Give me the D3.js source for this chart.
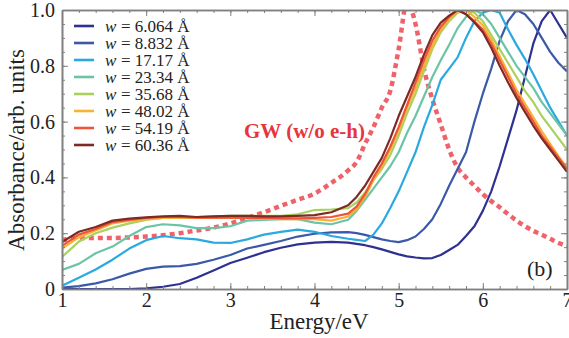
<!DOCTYPE html>
<html>
<head>
<meta charset="UTF-8">
<title>Absorbance</title>
<script src="https://cdnjs.cloudflare.com/ajax/libs/d3/7.8.5/d3.min.js"></script>
<style>
  body { margin: 0; background: #fff; }
</style>
</head>
<body>
<div id="chart"></div>
<script>
// energies (eV) the curves were read at
const energy = [1.0, 1.2, 1.4, 1.6, 1.8, 2.0, 2.2, 2.4, 2.6, 2.8, 3.0, 3.2, 3.4, 3.6, 3.8, 4.0, 4.2, 4.4,
  4.5, 4.6, 4.7, 4.8, 4.9, 5.0, 5.1, 5.2, 5.3, 5.4, 5.5, 5.6, 5.7, 5.8, 5.9, 6.0,
  6.1, 6.2, 6.3, 6.4, 6.5, 6.6, 6.7, 6.8, 6.9, 7.0];

const widths = ['6.064', '8.832', '17.17', '23.34', '35.68', '48.02', '54.19', '60.36'];
const colors = ['#2e3192', '#3b59a8', '#2aa9e0', '#6cc4a6', '#a9d15e', '#f9b236', '#f05438', '#7c2b24'];

const w6064 = [0, 0, 0, 0, 0, 0.002, 0.008, 0.018, 0.04, 0.066, 0.093, 0.112, 0.132, 0.148, 0.16, 0.166, 0.169, 0.166,
  0.162, 0.157, 0.15, 0.142, 0.133, 0.124, 0.117, 0.113, 0.11, 0.111, 0.122, 0.14, 0.158, 0.19, 0.225, 0.28,
  0.35, 0.44, 0.54, 0.64, 0.76, 0.88, 0.96, 1.0, 0.95, 0.9];
const w8832 = [0.005, 0.01, 0.02, 0.035, 0.055, 0.072, 0.08, 0.082, 0.09, 0.105, 0.122, 0.145, 0.158, 0.172, 0.188, 0.198, 0.203, 0.204,
  0.2, 0.194, 0.186, 0.178, 0.172, 0.168, 0.175, 0.188, 0.215, 0.25, 0.305, 0.37, 0.43, 0.49, 0.6, 0.7,
  0.79, 0.89, 0.96, 1.0, 0.985, 0.95, 0.9, 0.85, 0.81, 0.78];
const w1717 = [0.012, 0.04, 0.07, 0.105, 0.145, 0.175, 0.19, 0.182, 0.178, 0.166, 0.165, 0.178, 0.195, 0.205, 0.213, 0.205, 0.19, 0.18,
  0.176, 0.172, 0.195, 0.235, 0.29, 0.35, 0.42, 0.49, 0.58, 0.66, 0.75, 0.79, 0.83, 0.9, 0.96, 0.99,
  1.0, 0.99, 0.93, 0.875, 0.825, 0.77, 0.71, 0.65, 0.6, 0.55];
const w2334 = [0.068, 0.09, 0.128, 0.152, 0.19, 0.222, 0.232, 0.228, 0.218, 0.218, 0.225, 0.245, 0.248, 0.25, 0.25, 0.238, 0.232, 0.248,
  0.28, 0.32, 0.36, 0.4, 0.44, 0.49, 0.56, 0.62, 0.69, 0.76, 0.82, 0.875, 0.935, 0.975, 1.0, 0.985,
  0.95, 0.9, 0.85, 0.8, 0.76, 0.72, 0.67, 0.63, 0.59, 0.55];
const w3568 = [0.115, 0.17, 0.2, 0.22, 0.235, 0.248, 0.255, 0.258, 0.258, 0.26, 0.262, 0.262, 0.262, 0.262, 0.268, 0.283, 0.285, 0.29,
  0.31, 0.345, 0.39, 0.43, 0.48, 0.55, 0.63, 0.7, 0.78, 0.86, 0.92, 0.96, 0.99, 1.0, 0.99, 0.96,
  0.91, 0.86, 0.81, 0.76, 0.71, 0.67, 0.62, 0.58, 0.54, 0.5];
const w4802 = [0.145, 0.185, 0.21, 0.235, 0.245, 0.25, 0.255, 0.255, 0.255, 0.255, 0.255, 0.255, 0.252, 0.25, 0.25, 0.25, 0.245, 0.26,
  0.285, 0.33, 0.39, 0.44, 0.5, 0.57, 0.65, 0.72, 0.8, 0.87, 0.93, 0.97, 0.995, 1.0, 0.975, 0.945,
  0.895, 0.835, 0.775, 0.715, 0.665, 0.615, 0.565, 0.52, 0.475, 0.435];
const w5419 = [0.155, 0.195, 0.215, 0.24, 0.248, 0.255, 0.258, 0.258, 0.256, 0.256, 0.256, 0.255, 0.255, 0.253, 0.253, 0.255, 0.258, 0.27,
  0.295, 0.34, 0.4, 0.45, 0.51, 0.58, 0.66, 0.74, 0.82, 0.89, 0.94, 0.975, 1.0, 0.985, 0.96, 0.93,
  0.88, 0.82, 0.76, 0.7, 0.65, 0.6, 0.55, 0.51, 0.47, 0.43];
const w6036 = [0.168, 0.205, 0.222, 0.245, 0.252, 0.257, 0.26, 0.262, 0.258, 0.26, 0.262, 0.262, 0.26, 0.26, 0.262, 0.265, 0.275, 0.3,
  0.33, 0.37, 0.42, 0.47, 0.54, 0.62, 0.69, 0.76, 0.84, 0.91, 0.955, 0.98, 1.0, 0.985, 0.955, 0.92,
  0.865, 0.8, 0.74, 0.685, 0.635, 0.585, 0.54, 0.5, 0.46, 0.42];
// GW without electron-hole interaction (dotted)
const gw = [0.175, 0.183, 0.183, 0.183, 0.185, 0.188, 0.193, 0.2, 0.21, 0.22, 0.235, 0.255, 0.275, 0.298, 0.32, 0.342, 0.38, 0.425,
  0.455, 0.52, 0.58, 0.65, 0.71, 0.86, 1.03, 0.95, 0.79, 0.68, 0.59, 0.5, 0.435, 0.4, 0.37, 0.34,
  0.315, 0.293, 0.268, 0.245, 0.225, 0.208, 0.195, 0.18, 0.165, 0.155];

const series = [w6064, w8832, w1717, w2334, w3568, w4802, w5419, w6036];

const xTicks = [1, 2, 3, 4, 5, 6, 7];
const yTicks = [0, 0.2, 0.4, 0.6, 0.8, 1.0];
const yTickLabels = ['0', '0.2', '0.4', '0.6', '0.8', '1.0'];

const font = 'Liberation Serif';
const width = 569, height = 338;
const margin = {top: 10, right: 2, bottom: 49, left: 62};

const svg = d3.select('#chart').append('svg')
  .attr('width', width).attr('height', height);

const x = d3.scaleLinear().domain([1, 7]).range([margin.left, width - margin.right]);
const y = d3.scaleLinear().domain([0, 1]).range([height - margin.bottom, margin.top]);

svg.append('clipPath').attr('id', 'plot')
  .append('rect')
  .attr('x', x(1)).attr('y', y(1))
  .attr('width', x(7) - x(1)).attr('height', y(0) - y(1));

const line = d3.line().x((d, i) => x(energy[i])).y(d => y(d));
const g = svg.append('g').attr('clip-path', 'url(#plot)');

// dotted GW curve
g.append('path')
  .datum(gw)
  .attr('d', line.curve(d3.curveMonotoneX))
  .attr('fill', 'none')
  .attr('stroke', '#f0626a')
  .attr('stroke-width', 4.5)
  .attr('stroke-dasharray', '5,4');

line.curve(d3.curveLinear);
series.forEach((s, k) => {
  g.append('path')
    .datum(s)
    .attr('d', line)
    .attr('fill', 'none')
    .attr('stroke', colors[k])
    .attr('stroke-width', 2.2)
    .attr('stroke-linejoin', 'round');
});

// axes: ticks point inward on all four sides
const axisColor = '#808080';
const minorX = d3.range(1, 7.001, 0.2);
const minorY = d3.range(0, 1.001, 0.05);

function frame(sel) {
  sel.attr('font-family', font);
  sel.select('.domain').attr('stroke', axisColor).attr('stroke-width', 1.6);
  sel.selectAll('.tick line').attr('stroke', axisColor);
}

svg.append('g').attr('transform', `translate(0,${y(0)})`)
  .call(d3.axisBottom(x).tickValues(minorX).tickSize(-3).tickFormat('').tickSizeOuter(0)).call(frame);
svg.append('g').attr('transform', `translate(0,${y(0)})`)
  .call(d3.axisBottom(x).tickValues(xTicks).tickSize(-6).tickSizeOuter(0).tickFormat(d3.format('d')))
  .call(frame)
  .call(a => a.selectAll('.tick text').attr('font-family', font).attr('font-size', 20).attr('fill', '#222')
    .attr('y', 4).attr('dy', '0.71em'));

svg.append('g').attr('transform', `translate(0,${y(1)})`)
  .call(d3.axisTop(x).tickValues(minorX).tickSize(-3).tickFormat('').tickSizeOuter(0)).call(frame);
svg.append('g').attr('transform', `translate(0,${y(1)})`)
  .call(d3.axisTop(x).tickValues(xTicks).tickSize(-6).tickFormat('').tickSizeOuter(0)).call(frame);

svg.append('g').attr('transform', `translate(${x(1)},0)`)
  .call(d3.axisLeft(y).tickValues(minorY).tickSize(-3).tickFormat('').tickSizeOuter(0)).call(frame);
svg.append('g').attr('transform', `translate(${x(1)},0)`)
  .call(d3.axisLeft(y).tickValues(yTicks).tickSize(-6).tickSizeOuter(0)
    .tickFormat((d, i) => yTickLabels[i]))
  .call(frame)
  .call(a => a.selectAll('.tick text').attr('font-family', font).attr('font-size', 20).attr('fill', '#222')
    .attr('x', -7));

svg.append('g').attr('transform', `translate(${x(7)},0)`)
  .call(d3.axisRight(y).tickValues(minorY).tickSize(-3).tickFormat('').tickSizeOuter(0)).call(frame);
svg.append('g').attr('transform', `translate(${x(7)},0)`)
  .call(d3.axisRight(y).tickValues(yTicks).tickSize(-6).tickFormat('').tickSizeOuter(0)).call(frame);

// axis titles
svg.append('text')
  .attr('x', 319).attr('y', 329)
  .attr('text-anchor', 'middle').attr('font-family', font).attr('font-size', 23).attr('fill', '#222')
  .text('Energy/eV');
svg.append('text')
  .attr('transform', 'translate(24,150) rotate(-90)')
  .attr('text-anchor', 'middle').attr('font-family', font).attr('font-size', 23).attr('fill', '#222')
  .text('Absorbance/arb. units');

// legend
const legend = svg.append('g').attr('transform', 'translate(74,26)');
widths.forEach((w, k) => {
  const row = legend.append('g').attr('transform', `translate(0,${k * 17})`);
  row.append('line').attr('x1', 0).attr('x2', 20)
    .attr('stroke', colors[k]).attr('stroke-width', 2.6);
  row.append('text').attr('x', 31).attr('y', 5.5)
    .attr('font-family', font).attr('font-size', 17).attr('font-style', 'italic').attr('fill', '#222')
    .text('w');
  row.append('text').attr('x', 47).attr('y', 5.5)
    .attr('font-family', font).attr('font-size', 17).attr('fill', '#222')
    .text(`= ${w} Å`);
});

svg.append('text')
  .attr('x', 244).attr('y', 138)
  .attr('font-family', font).attr('font-size', 21).attr('font-weight', 'bold').attr('fill', '#e8353d')
  .text('GW (w/o e-h)');

svg.append('text')
  .attr('x', 527).attr('y', 276)
  .attr('font-family', font).attr('font-size', 22).attr('fill', '#222')
  .text('(b)');
</script>
</body>
</html>
